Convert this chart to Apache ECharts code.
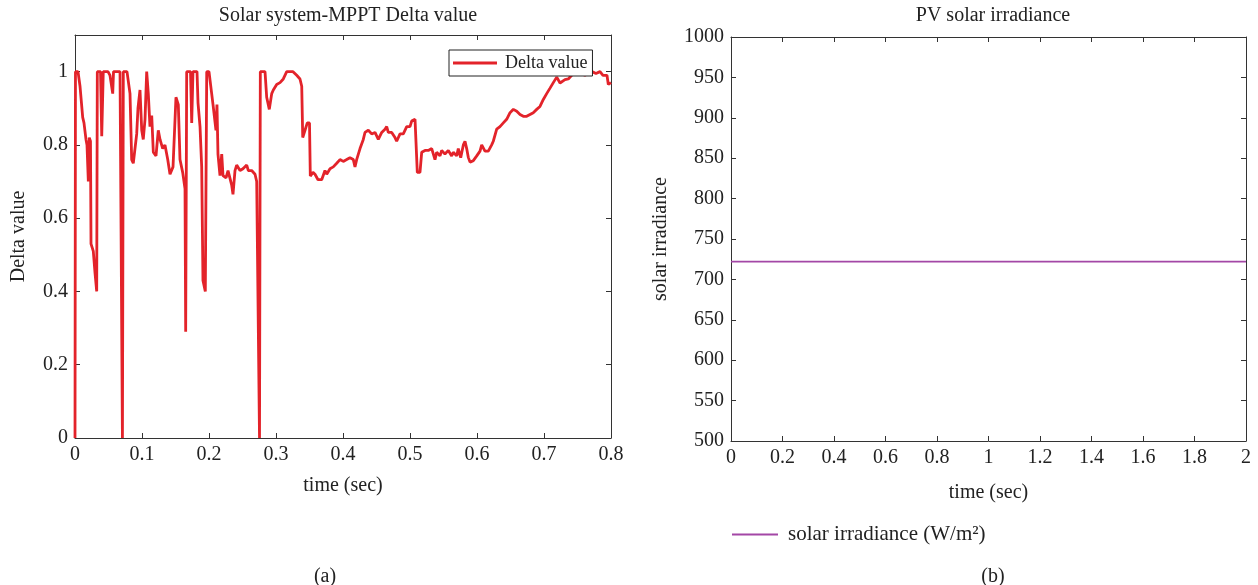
<!DOCTYPE html>
<html>
<head>
<meta charset="utf-8">
<title>Solar system-MPPT Delta value / PV solar irradiance</title>
<script src="https://cdn.jsdelivr.net/npm/echarts@6/dist/echarts.min.js"></script>
<style>
  html, body { margin: 0; padding: 0; background: #fff; }
  #chart { width: 1258px; height: 585px; }
</style>
</head>
<body>
<div id="chart"></div>
<script>
// (a) MPPT delta value over time
const deltaTime = [
  0, 0.0007, 0.0045, 0.0075, 0.0115, 0.0134, 0.0164, 0.0179, 0.0199, 0.0213,
  0.0231, 0.0239, 0.0273, 0.0299, 0.0324, 0.0333, 0.0381, 0.0399, 0.041, 0.0422,
  0.0493, 0.0522, 0.0563, 0.0575, 0.0672, 0.0697, 0.0708, 0.0721, 0.0776, 0.0821,
  0.0846, 0.087, 0.0921, 0.094, 0.097, 0.0996, 0.1019, 0.1045, 0.107, 0.1094,
  0.1119, 0.1145, 0.1169, 0.1209, 0.1243, 0.1269, 0.1309, 0.1343, 0.1384, 0.1418,
  0.1463, 0.1507, 0.1542, 0.1567, 0.1607, 0.1642, 0.1652, 0.1667, 0.1724, 0.1742,
  0.1761, 0.1821, 0.1836, 0.1866, 0.1891, 0.191, 0.1945, 0.1966, 0.2, 0.204,
  0.206, 0.2104, 0.2119, 0.2134, 0.2164, 0.219, 0.2209, 0.2254, 0.2284, 0.2339,
  0.2358, 0.2388, 0.2413, 0.2463, 0.2507, 0.2563, 0.2587, 0.2637, 0.2687, 0.2712,
  0.2739, 0.2754, 0.2766, 0.2836, 0.2861, 0.29, 0.2936, 0.296, 0.301, 0.306,
  0.3109, 0.316, 0.3254, 0.3309, 0.3358, 0.3384, 0.3399, 0.3433, 0.3467, 0.35,
  0.3512, 0.3552, 0.3582, 0.3627, 0.3682, 0.3731, 0.3757, 0.3806, 0.3855, 0.3906,
  0.3955, 0.4004, 0.4055, 0.4104, 0.4154, 0.4179, 0.4204, 0.4254, 0.4303, 0.4328,
  0.4378, 0.4428, 0.4478, 0.4527, 0.4578, 0.4627, 0.4652, 0.4676, 0.4727, 0.4776,
  0.4801, 0.4851, 0.49, 0.4951, 0.5, 0.5025, 0.5075, 0.51, 0.5109, 0.5149,
  0.5175, 0.5224, 0.5273, 0.5324, 0.5373, 0.5398, 0.5448, 0.5473, 0.5522, 0.5572,
  0.5622, 0.5646, 0.5697, 0.5721, 0.5757, 0.5796, 0.5821, 0.5846, 0.587, 0.5896,
  0.5945, 0.5996, 0.6045, 0.607, 0.6094, 0.6119, 0.6169, 0.6219, 0.6243, 0.6294,
  0.6343, 0.6393, 0.6443, 0.6493, 0.6543, 0.6593, 0.6642, 0.6691, 0.6742, 0.6791,
  0.684, 0.6891, 0.694, 0.699, 0.704, 0.709, 0.7139, 0.719, 0.7239, 0.7264,
  0.7313, 0.7363, 0.7413, 0.7437, 0.7487, 0.761, 0.7716, 0.7776, 0.7836, 0.788,
  0.794, 0.796, 0.8
];
const deltaValue = [
  0, 1.0, 1.0, 0.96, 0.875, 0.86, 0.815, 0.80, 0.70, 0.82,
  0.81, 0.53, 0.51, 0.45, 0.40, 1.0, 1.0, 0.824, 0.82, 1.0,
  1.0, 0.99, 0.94, 1.0, 1.0, 1.0, 0, 1.0, 1.0, 0.94,
  0.76, 0.75, 0.83, 0.90, 0.95, 0.84, 0.815, 0.87, 1.0, 0.94,
  0.85, 0.88, 0.78, 0.77, 0.84, 0.815, 0.79, 0.80, 0.76, 0.72,
  0.74, 0.93, 0.91, 0.76, 0.725, 0.68, 0.29, 1.0, 1.0, 0.86,
  1.0, 1.0, 0.915, 0.85, 0.74, 0.43, 0.40, 1.0, 1.0, 0.94,
  0.91, 0.84, 0.91, 0.775, 0.716, 0.775, 0.716, 0.71, 0.73, 0.69,
  0.665, 0.73, 0.745, 0.73, 0.735, 0.745, 0.73, 0.73, 0.72, 0.70,
  0.70, 0, 1.0, 1.0, 0.93, 0.897, 0.94, 0.95, 0.965, 0.97,
  0.98, 1.0, 1.0, 0.99, 0.98, 0.96, 0.82, 0.84, 0.86, 0.86,
  0.715, 0.725, 0.72, 0.705, 0.705, 0.73, 0.72, 0.735, 0.74, 0.75,
  0.76, 0.755, 0.76, 0.765, 0.76, 0.74, 0.76, 0.79, 0.815, 0.834,
  0.84, 0.83, 0.834, 0.815, 0.834, 0.843, 0.85, 0.834, 0.834, 0.82,
  0.81, 0.83, 0.83, 0.85, 0.85, 0.865, 0.87, 0.874, 0.725, 0.725,
  0.78, 0.785, 0.785, 0.79, 0.76, 0.78, 0.77, 0.785, 0.775, 0.785,
  0.77, 0.78, 0.77, 0.79, 0.765, 0.80, 0.81, 0.79, 0.766, 0.753,
  0.757, 0.77, 0.783, 0.80, 0.80, 0.783, 0.783, 0.80, 0.81, 0.843,
  0.85, 0.86, 0.87, 0.888, 0.897, 0.892, 0.883, 0.878, 0.878, 0.883,
  0.888, 0.897, 0.905, 0.924, 0.94, 0.955, 0.97, 0.985, 0.969, 0.965,
  0.978, 0.98, 0.99, 0.996, 1.0, 0.99, 1.0, 0.995, 1.0, 0.99,
  0.99, 0.965, 0.97
];

// (b) PV solar irradiance, constant over the run
const irrTime = [0, 0.5, 1, 1.5, 2];
const irrValue = [722, 722, 722, 722, 722];

// tick settings
const deltaXTicks = { min: 0, max: 0.8, interval: 0.1 };
const deltaYTicks = { min: 0, max: 1.1, interval: 0.2 };
const irrXTicks = { min: 0, max: 2, interval: 0.2 };
const irrYTicks = { min: 500, max: 1000, interval: 50 };

const FONT = '"Liberation Serif", "DejaVu Serif", serif';
const INK = '#222';
const AXIS = '#333';
const TICK_SIZE = 20;
const TEXT_SIZE = 20;

const chart = echarts.init(document.getElementById('chart'), null, { renderer: 'canvas' });

function pair(seq) {
  return seq.t.map((t, i) => [t, seq.v[i]]);
}
// plain numbers, no thousands separator
const plain = v => String(+(+v).toFixed(3));

function mainX(grid, ticks, nameGap) {
  return {
    type: 'value', gridIndex: grid, position: 'bottom',
    min: ticks.min, max: ticks.max, interval: ticks.interval,
    name: 'time (sec)', nameLocation: 'middle', nameGap: nameGap,
    nameTextStyle: { fontFamily: FONT, fontSize: TEXT_SIZE, color: INK },
    axisLine: { show: true, onZero: false, lineStyle: { color: AXIS, width: 1 } },
    axisTick: { show: true, inside: true, length: 5, lineStyle: { color: AXIS } },
    axisLabel: { fontFamily: FONT, fontSize: TICK_SIZE, color: INK, margin: 7, formatter: plain },
    splitLine: { show: false }
  };
}
function topX(grid, ticks) {
  return {
    type: 'value', gridIndex: grid, position: 'top',
    min: ticks.min, max: ticks.max, interval: ticks.interval,
    axisLine: { show: true, onZero: false, lineStyle: { color: AXIS, width: 1 } },
    axisTick: { show: true, inside: true, length: 5, lineStyle: { color: AXIS } },
    axisLabel: { show: false }, splitLine: { show: false }
  };
}
function mainY(grid, ticks, name, nameGap) {
  return {
    type: 'value', gridIndex: grid, position: 'left',
    min: ticks.min, max: ticks.max, interval: ticks.interval,
    name: name, nameLocation: 'middle', nameGap: nameGap,
    nameTextStyle: { fontFamily: FONT, fontSize: TEXT_SIZE, color: INK },
    axisLine: { show: true, onZero: false, lineStyle: { color: AXIS, width: 1 } },
    axisTick: { show: true, inside: true, length: 5, lineStyle: { color: AXIS } },
    axisLabel: {
      fontFamily: FONT, fontSize: TICK_SIZE, color: INK, margin: 7, formatter: plain,
      showMaxLabel: Math.abs((ticks.max - ticks.min) / ticks.interval % 1) < 1e-9
    },
    splitLine: { show: false }
  };
}
function rightY(grid, ticks) {
  return {
    type: 'value', gridIndex: grid, position: 'right',
    min: ticks.min, max: ticks.max, interval: ticks.interval,
    axisLine: { show: true, onZero: false, lineStyle: { color: AXIS, width: 1 } },
    axisTick: { show: true, inside: true, length: 5, lineStyle: { color: AXIS } },
    axisLabel: { show: false }, splitLine: { show: false }
  };
}

const option = {
  backgroundColor: '#fff',
  animation: false,
  title: [
    { text: 'Solar system-MPPT Delta value', left: 343, top: 1, textAlign: 'center',
      textStyle: { fontFamily: FONT, fontSize: TEXT_SIZE, fontWeight: 'normal', color: INK } },
    { text: 'PV solar irradiance', left: 988, top: 1, textAlign: 'center',
      textStyle: { fontFamily: FONT, fontSize: TEXT_SIZE, fontWeight: 'normal', color: INK } },
    { text: '(a)', left: 320, top: 562, textAlign: 'center',
      textStyle: { fontFamily: FONT, fontSize: TEXT_SIZE, fontWeight: 'normal', color: INK } },
    { text: '(b)', left: 988, top: 562, textAlign: 'center',
      textStyle: { fontFamily: FONT, fontSize: TEXT_SIZE, fontWeight: 'normal', color: INK } }
  ],
  grid: [
    { left: 75, top: 35, width: 536, height: 403, show: false, containLabel: false },
    { left: 731, top: 37, width: 515, height: 404, show: false, containLabel: false }
  ],
  legend: [
    {
      data: ['Delta value'], left: 449, top: 50,
      orient: 'horizontal', padding: [4, 5, 4, 4],
      backgroundColor: '#fff', borderColor: '#222', borderWidth: 1,
      icon: 'rect', itemWidth: 44, itemHeight: 3, itemGap: 8,
      textStyle: { fontFamily: FONT, fontSize: 18, color: INK, padding: [0, 0, 0, 3] }
    },
    {
      data: ['solar irradiance (W/m²)'], left: 732, top: 524,
      padding: 0, icon: 'rect', itemWidth: 46, itemHeight: 2, itemGap: 10,
      textStyle: { fontFamily: FONT, fontSize: 21, color: INK, padding: [0, 0, 0, 5] }
    }
  ],
  xAxis: [
    mainX(0, deltaXTicks, 38),
    topX(0, deltaXTicks),
    mainX(1, irrXTicks, 42),
    topX(1, irrXTicks)
  ],
  yAxis: [
    mainY(0, deltaYTicks, 'Delta value', 46),
    rightY(0, deltaYTicks),
    mainY(1, irrYTicks, 'solar irradiance', 60),
    rightY(1, irrYTicks)
  ],
  series: [
    {
      name: 'Delta value', type: 'line', xAxisIndex: 0, yAxisIndex: 0,
      data: pair({ t: deltaTime, v: deltaValue }),
      symbol: 'none', smooth: false, clip: true,
      lineStyle: { color: '#e3232a', width: 2.8 },
      itemStyle: { color: '#e3232a' }, z: 2
    },
    {
      name: 'solar irradiance (W/m²)', type: 'line', xAxisIndex: 2, yAxisIndex: 2,
      data: pair({ t: irrTime, v: irrValue }),
      symbol: 'none',
      lineStyle: { color: '#a347a6', width: 1.6 },
      itemStyle: { color: '#a347a6' }
    }
  ]
};

chart.setOption(option);
</script>
</body>
</html>
